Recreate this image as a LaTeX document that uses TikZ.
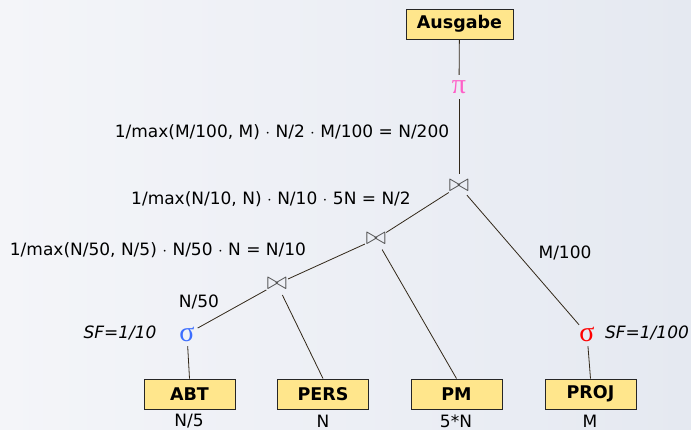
\documentclass[tikz,border=0pt]{standalone}
\usepackage{fontspec}
\setmainfont{DejaVu Sans}
\newfontfamily\greekserif{Liberation Serif}
\usepackage{tikz}
\definecolor{bgleft}{RGB}{244,245,249}
\definecolor{bgright}{RGB}{229,233,241}
\definecolor{boxfill}{RGB}{255,230,140}
\definecolor{pipink}{RGB}{255,95,200}
\definecolor{sigblue}{RGB}{60,110,255}
\definecolor{edgecol}{RGB}{50,40,25}
\tikzset{
	relbox/.style={draw=black!85, line width=0.9pt, fill=boxfill, minimum width=91pt, minimum height=30pt, inner sep=0pt, font=\bfseries\fontsize{17.5}{19}\selectfont},
	op/.style={circle, minimum size=24pt, inner sep=0pt},
	joinop/.style={op, text=black!70, font=\fontsize{23}{23}\selectfont},
	selop/.style={op, font=\greekserif\fontsize{28}{28}\selectfont},
	lbl/.style={inner sep=0pt, font=\fontsize{17}{19}\selectfont},
	sflbl/.style={lbl, font=\itshape\fontsize{17}{19}\selectfont},
	edge/.style={draw=edgecol, line width=0.8pt}
}

\begin{document}
\begin{tikzpicture}[x=1pt, y=-1pt]
			%%%%% START %%%%%
			
			\useasboundingbox (0, 0) rectangle (691, 430);
			\shade[left color=bgleft, right color=bgright] (0, 0) rectangle (691, 430);
			
			% relations
			\node[relbox, minimum width=107pt] (ausgabe) at (459.5, 24) {Ausgabe};
			\node[relbox] (abt) at (189.5, 394) {ABT};
			\node[relbox] (pers) at (323, 394) {PERS};
			\node[relbox] (pm) at (456.5, 394) {PM};
			\node[relbox] (proj) at (590.5, 394) {PROJ};
			
			% operators
			\node[selop, text=pipink] (proj1) at (459, 87) {π};
			\node[joinop] (join1) at (459, 186) {$\bowtie$};
			\node[joinop] (join2) at (376, 239) {$\bowtie$};
			\node[joinop] (join3) at (277, 284) {$\bowtie$};
			\node[selop, text=sigblue] (selabt) at (187, 334) {σ};
			\node[selop, text=red] (selproj) at (587, 334) {σ};
			
			% edges
			\draw[edge] (ausgabe) -- (proj1);
			\draw[edge] (proj1) -- (join1);
			\draw[edge] (join1) -- (join2);
			\draw[edge] (join1) -- (selproj);
			\draw[edge] (join2) -- (join3);
			\draw[edge] (join2) -- (pm.north);
			\draw[edge] (join3) -- (selabt);
			\draw[edge] (join3) -- (pers.north);
			\draw[edge] (selabt) -- (abt.north);
			\draw[edge] (selproj) -- (proj.north);
			
			% cardinalities
			\node[lbl] (cardabt) at (189, 421) {N/5};
			\node[lbl] (cardpers) at (323, 421) {N};
			\node[lbl] (cardpm) at (456, 421) {5*N};
			\node[lbl] (cardproj) at (590, 421) {M};
			
			\node[sflbl] (sfabt) at (120, 333) {SF=1/10};
			\node[sflbl] (sfproj) at (647, 333) {SF=1/100};
			\node[lbl] (cardselabt) at (199, 302) {N/50};
			\node[lbl] (cardselproj) at (565, 253) {M/100};
			
			\node[lbl] (cardjoin3) at (158, 250) {1/max(N/50, N/5) $\cdot$ N/50 $\cdot$ N = N/10};
			\node[lbl] (cardjoin2) at (271, 199) {1/max(N/10, N) $\cdot$ N/10 $\cdot$ 5N = N/2};
			\node[lbl] (cardjoin1) at (282, 132) {1/max(M/100, M) $\cdot$ N/2 $\cdot$ M/100 = N/200};
			
			%%%%% END %%%%%
\end{tikzpicture}
\end{document}
